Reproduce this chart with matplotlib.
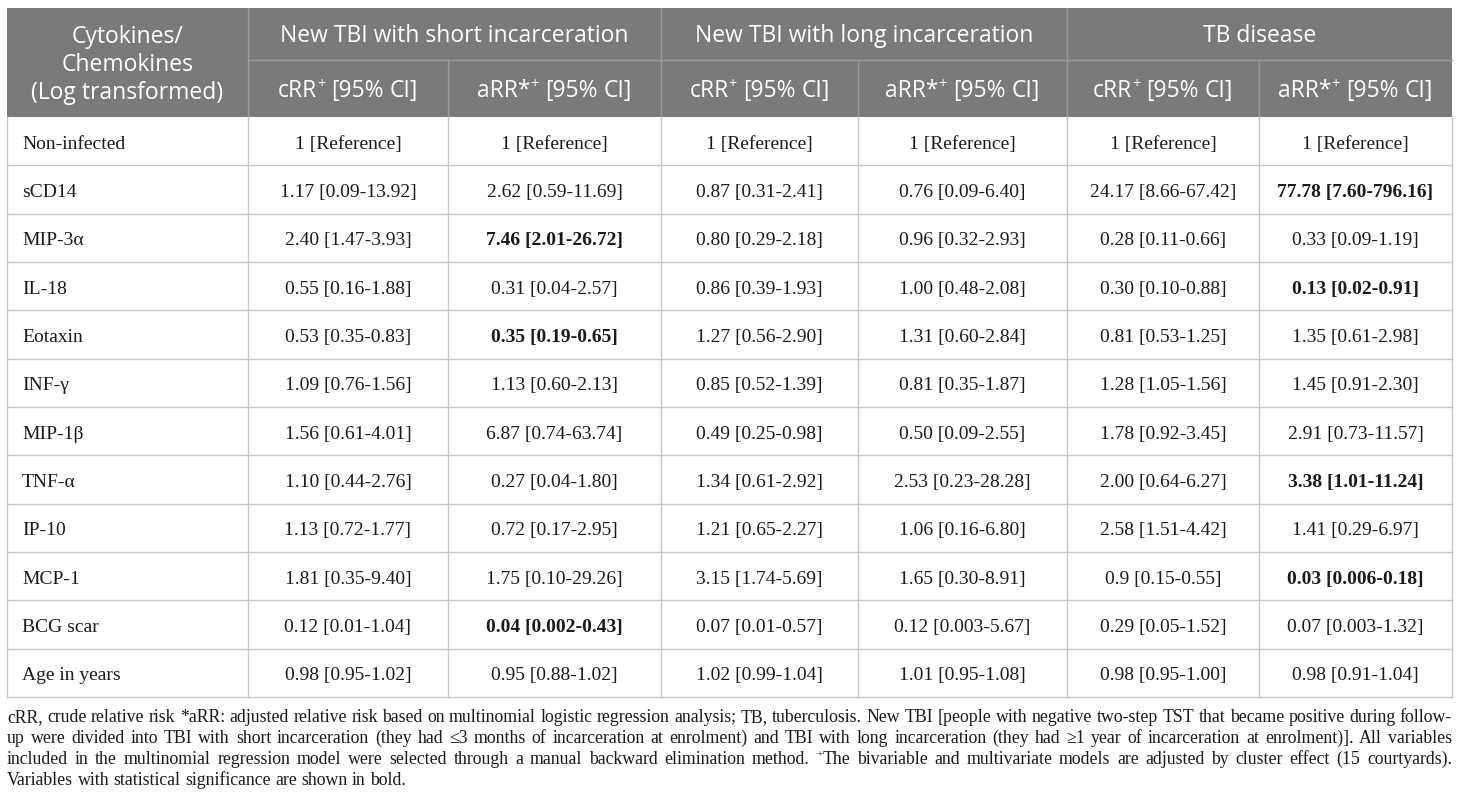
import matplotlib
matplotlib.use("Agg")
import matplotlib.pyplot as plt
from matplotlib.patches import Rectangle

# ---- table contents ----
groups = ["New TBI with short incarceration", "New TBI with long incarceration", "TB disease"]
row_labels = ["Non-infected", "sCD14", "MIP-3α", "IL-18", "Eotaxin", "INF-γ", "MIP-1β",
              "TNF-α", "IP-10", "MCP-1", "BCG scar", "Age in years"]

short_crr = ["1 [Reference]", "1.17 [0.09-13.92]", "2.40 [1.47-3.93]", "0.55 [0.16-1.88]",
             "0.53 [0.35-0.83]", "1.09 [0.76-1.56]", "1.56 [0.61-4.01]", "1.10 [0.44-2.76]",
             "1.13 [0.72-1.77]", "1.81 [0.35-9.40]", "0.12 [0.01-1.04]", "0.98 [0.95-1.02]"]
short_arr = ["1 [Reference]", "2.62 [0.59-11.69]", "7.46 [2.01-26.72]", "0.31 [0.04-2.57]",
             "0.35 [0.19-0.65]", "1.13 [0.60-2.13]", "6.87 [0.74-63.74]", "0.27 [0.04-1.80]",
             "0.72 [0.17-2.95]", "1.75 [0.10-29.26]", "0.04 [0.002-0.43]", "0.95 [0.88-1.02]"]
long_crr = ["1 [Reference]", "0.87 [0.31-2.41]", "0.80 [0.29-2.18]", "0.86 [0.39-1.93]",
            "1.27 [0.56-2.90]", "0.85 [0.52-1.39]", "0.49 [0.25-0.98]", "1.34 [0.61-2.92]",
            "1.21 [0.65-2.27]", "3.15 [1.74-5.69]", "0.07 [0.01-0.57]", "1.02 [0.99-1.04]"]
long_arr = ["1 [Reference]", "0.76 [0.09-6.40]", "0.96 [0.32-2.93]", "1.00 [0.48-2.08]",
            "1.31 [0.60-2.84]", "0.81 [0.35-1.87]", "0.50 [0.09-2.55]", "2.53 [0.23-28.28]",
            "1.06 [0.16-6.80]", "1.65 [0.30-8.91]", "0.12 [0.003-5.67]", "1.01 [0.95-1.08]"]
tb_crr = ["1 [Reference]", "24.17 [8.66-67.42]", "0.28 [0.11-0.66]", "0.30 [0.10-0.88]",
          "0.81 [0.53-1.25]", "1.28 [1.05-1.56]", "1.78 [0.92-3.45]", "2.00 [0.64-6.27]",
          "2.58 [1.51-4.42]", "0.9 [0.15-0.55]", "0.29 [0.05-1.52]", "0.98 [0.95-1.00]"]
tb_arr = ["1 [Reference]", "77.78 [7.60-796.16]", "0.33 [0.09-1.19]", "0.13 [0.02-0.91]",
          "1.35 [0.61-2.98]", "1.45 [0.91-2.30]", "2.91 [0.73-11.57]", "3.38 [1.01-11.24]",
          "1.41 [0.29-6.97]", "0.03 [0.006-0.18]", "0.07 [0.003-1.32]", "0.98 [0.91-1.04]"]
columns = [short_crr, short_arr, long_crr, long_arr, tb_crr, tb_arr]

# (row, data column) shown in bold = statistically significant
bold_cells = {(1, 5), (2, 1), (3, 5), (4, 1), (7, 5), (9, 5), (10, 1)}

footnote = [
    "cRR, crude relative risk *aRR: adjusted relative risk based on multinomial logistic regression analysis; "
    "TB, tuberculosis. New TBI [people with negative two-step TST that became positive during follow-",
    "up were divided into TBI with short incarceration (they had ≤3 months of incarceration at enrolment) "
    "and TBI with long incarceration (they had ≥1 year of incarceration at enrolment)]. All variables",
    "included in the multinomial regression model were selected through a manual backward elimination method. "
    "^+The bivariable and multivariate models are adjusted by cluster effect (15 courtyards).",
    "Variables with statistical significance are shown in bold.",
]

# ---- layout / style ----
W, H = 1460, 809
col_x = [7, 248, 448, 661, 858, 1067, 1259, 1452]
hdr_y = [8, 60, 117]
row_h = (697 - 117) / len(row_labels)
HDR_BG = "#7a7a7a"
HDR_LINE = "#9c9c9c"
GRID = "#c6c6c6"
SANS = "Open Sans"
SERIF = "Liberation Serif"
TXT = "#1a1a1a"

fig = plt.figure(figsize=(W / 100, H / 100), dpi=100)
ax = fig.add_axes([0, 0, 1, 1])
ax.set_xlim(0, W)
ax.set_ylim(H, 0)
ax.axis("off")
renderer = fig.canvas.get_renderer()


def text_w(s, size, family, weight="normal"):
    t = ax.text(0, 0, s, fontsize=size, family=family, weight=weight)
    w = t.get_window_extent(renderer).width
    t.remove()
    return w


def space_w(size, family, weight="normal"):
    return text_w("a a", size, family, weight) - text_w("aa", size, family, weight)


def draw_runs(x, base, tokens, size, family, color, weight="normal", ha="center"):
    # tokens: words, "^" prefix marks a superscript piece glued to the next one
    pieces = []
    sp = space_w(size, family, weight)
    for tok in tokens:
        if tok == " ":
            pieces.append((None, sp))
        elif tok.startswith("^"):
            pieces.append((("sup", tok[1:]), text_w(tok[1:], size * 0.62, family, weight)))
        else:
            pieces.append((("n", tok), text_w(tok, size, family, weight)))
    total = sum(p[1] for p in pieces)
    cx = x - total / 2 if ha == "center" else x
    for p, w in pieces:
        if p is not None:
            kind, s = p
            if kind == "sup":
                ax.text(cx, base - size * 0.55, s, fontsize=size * 0.62, family=family,
                        color=color, weight=weight, va="baseline", ha="left")
            else:
                ax.text(cx, base, s, fontsize=size, family=family, color=color,
                        weight=weight, va="baseline", ha="left")
        cx += w


# ---- header ----
ax.add_patch(Rectangle((col_x[0], hdr_y[0]), col_x[-1] - col_x[0], hdr_y[2] - hdr_y[0],
                       facecolor=HDR_BG, edgecolor="none"))
for xi in (col_x[1], col_x[3], col_x[5]):
    ax.plot([xi, xi], [hdr_y[0], hdr_y[2]], color=HDR_LINE, lw=1)
for xi in (col_x[2], col_x[4], col_x[6]):
    ax.plot([xi, xi], [hdr_y[1], hdr_y[2]], color=HDR_LINE, lw=1)
ax.plot([col_x[1], col_x[-1]], [hdr_y[1], hdr_y[1]], color=HDR_LINE, lw=1)

HS = 16.5
cap = 0.714 * HS * 100 / 72
for i, g in enumerate(groups):
    xc = (col_x[1 + 2 * i] + col_x[3 + 2 * i]) / 2
    ax.text(xc, (hdr_y[0] + hdr_y[1]) / 2 + cap / 2, g, fontsize=HS, family=SANS,
            color="white", ha="center", va="baseline")
    for j, lab in enumerate(["cRR", "aRR*"]):
        xs = (col_x[1 + 2 * i + j] + col_x[2 + 2 * i + j]) / 2
        draw_runs(xs, (hdr_y[1] + hdr_y[2]) / 2 + cap / 2, [lab, "^+", " ", "[95%", " ", "CI]"],
                  HS, SANS, "white")
first_hdr = ["Cytokines/", "Chemokines", "(Log transformed)"]
for k, line in enumerate(first_hdr):
    ax.text((col_x[0] + col_x[1]) / 2, 62.5 + (k - 1) * 28 + cap / 2, line, fontsize=HS,
            family=SANS, color="white", ha="center", va="baseline")

# ---- body ----
BS = 14
bcap = 0.66 * BS * 100 / 72
for r, lab in enumerate(row_labels):
    y0 = hdr_y[2] + r * row_h
    yb = y0 + row_h / 2 + bcap / 2 + 1
    ax.text(col_x[0] + 15, yb, lab, fontsize=BS, family=SERIF, color=TXT, ha="left", va="baseline")
    for c, col in enumerate(columns):
        xc = (col_x[c + 1] + col_x[c + 2]) / 2
        wt = "bold" if (r, c) in bold_cells else "normal"
        ax.text(xc, yb, col[r], fontsize=BS, family=SERIF, color=TXT, weight=wt,
                ha="center", va="baseline")
    if r > 0:
        ax.plot([col_x[0], col_x[-1]], [y0, y0], color=GRID, lw=1)
for xi in col_x:
    ax.plot([xi, xi], [hdr_y[2], 697], color=GRID, lw=1)
ax.plot([col_x[0], col_x[-1]], [697, 697], color=GRID, lw=1)

# ---- footnote (justified) ----
line_words = [ln.split(" ") for ln in footnote]
FS = 13.4
natural = max(sum(text_w(w.lstrip("^+"), FS, SERIF) for w in ws) + space_w(FS, SERIF) * (len(ws) - 1)
              for ws in line_words[:3])
if natural > col_x[-1] - col_x[0]:
    FS = FS * (col_x[-1] - col_x[0]) / natural
for k, ws in enumerate(line_words):
    base = 722 + k * 21
    widths = []
    for w in ws:
        if w.startswith("^+"):
            widths.append(text_w("+", FS * 0.62, SERIF) + text_w(w[2:], FS, SERIF))
        else:
            widths.append(text_w(w, FS, SERIF))
    if k < 3:
        gap = (col_x[-1] - col_x[0] - sum(widths)) / (len(ws) - 1)
    else:
        gap = space_w(FS, SERIF)
    x = col_x[0]
    for w, wd in zip(ws, widths):
        if w.startswith("^+"):
            draw_runs(x, base, ["^+", w[2:]], FS, SERIF, TXT, ha="left")
        else:
            ax.text(x, base, w, fontsize=FS, family=SERIF, color=TXT, ha="left", va="baseline")
        x += wd + gap

fig.savefig("out.png", dpi=100)
